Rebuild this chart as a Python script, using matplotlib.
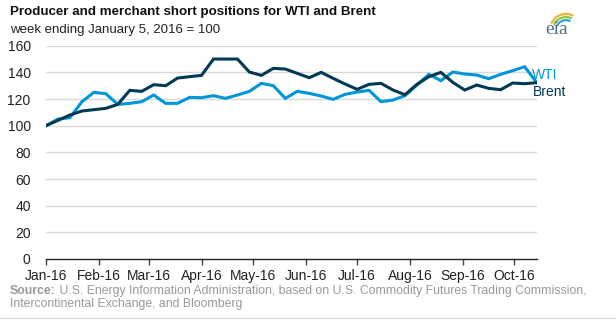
import matplotlib
matplotlib.use("Agg")
import matplotlib.pyplot as plt
import matplotlib.dates as mdates
from matplotlib.patches import Arc
import pandas as pd

plt.rcParams["font.family"] = ["Liberation Sans", "DejaVu Sans"]

# weekly report dates (Tuesdays), index: week ending Jan 5, 2016 = 100
weeks = pd.date_range("2016-01-05", periods=42, freq="7D")

wti = [100, 105, 106, 118, 125, 124, 116, 116.75, 118, 123,
       116.75, 116.75, 121.25, 121, 122.5, 120.5, 123, 125.75, 131.75, 130,
       120.5, 125.75, 124.25, 122.25, 119.75, 123.5, 125.25, 126.5, 118, 119.25,
       122.5, 130.5, 138.5, 133.75, 140.25, 138.75, 138, 135.25, 138.5, 141.25,
       144.25, 132.5]
brent = [100, 104, 108, 111, 112, 113, 116, 126.5, 125.75, 130.75,
         130, 135.75, 136.75, 137.75, 150, 150, 150, 140.25, 137.75, 143,
         142.5, 139.25, 136, 140, 135.5, 131.25, 127.25, 131, 131.75, 126.75,
         123.25, 131, 136.75, 140, 132.5, 126.75, 130.5, 128, 127, 132,
         131.5, 132.25]

yticks = [0, 20, 40, 60, 80, 100, 120, 140, 160]

WTI_BLUE = "#0096d7"
BRENT_NAVY = "#003953"
GRID = "#d9d9d9"
SRC_GRAY = "#999999"

fig = plt.figure(figsize=(6.16, 3.23), dpi=100)
ax = fig.add_axes([46 / 616, 1 - 259 / 323, (537 - 46) / 616, (259 - 45.7) / 323])

ax.plot(weeks, wti, color=WTI_BLUE, lw=2.2, solid_joinstyle="miter", zorder=3)
ax.plot(weeks, brent, color=BRENT_NAVY, lw=2.2, solid_joinstyle="miter", zorder=4)

ax.set_ylim(0, 160)
ax.set_yticks(yticks)
ax.set_xlim(weeks[0], weeks[-1] + pd.Timedelta(hours=6))
ax.xaxis.set_major_locator(mdates.MonthLocator(bymonthday=5))
ax.xaxis.set_major_formatter(mdates.DateFormatter("%b-%y"))

for y in yticks[1:]:
    ax.axhline(y, color=GRID, lw=1, zorder=1)
for side in ("top", "right", "left"):
    ax.spines[side].set_visible(False)
ax.spines["bottom"].set_color("#222222")
ax.spines["bottom"].set_linewidth(1)

ax.tick_params(axis="y", length=0, pad=11, labelsize=10, labelcolor="#222222")
ax.tick_params(axis="x", direction="out", length=4, width=1, color="#444444",
               pad=3, labelsize=10, labelcolor="#222222")

# series labels at the right end of the lines
ax.annotate("WTI", xy=(weeks[-1], 138), xytext=(-3, 0), textcoords="offset points",
            color=WTI_BLUE, fontsize=10, ha="left", va="center", annotation_clip=False)
ax.annotate("Brent", xy=(weeks[-1], 125.5), xytext=(-3, 0), textcoords="offset points",
            color=BRENT_NAVY, fontsize=10, ha="left", va="center", annotation_clip=False)

fig.text(10 / 616, 1 - 12 / 323, "Producer and merchant short positions for WTI and Brent",
         fontsize=9.6, fontweight="bold", color="#111111", va="center")
fig.text(10 / 616, 1 - 30 / 323, "week ending January 5, 2016 = 100",
         fontsize=9.5, color="#222222", va="center")

# source note, bold lead-in followed by regular text
src = fig.text(10 / 616, 1 - 291 / 323, "Source:", fontsize=8.8, fontweight="bold",
               color=SRC_GRAY, va="center")
fig.canvas.draw()
bb = src.get_window_extent()
fig.text(bb.x1 / fig.bbox.width, 1 - 291 / 323,
         " U.S. Energy Information Administration, based on U.S. Commodity Futures Trading Commission,",
         fontsize=8.8, color=SRC_GRAY, va="center")
fig.text(10 / 616, 1 - 304 / 323, "Intercontinental Exchange, and Bloomberg",
         fontsize=8.8, color=SRC_GRAY, va="center")
fig.add_artist(plt.Line2D([0, 1], [1 - 318 / 323] * 2, color="#dddddd", lw=1,
                          transform=fig.transFigure))

# eia mark
fig.text(557 / 616, 1 - 29 / 323, "eia", fontsize=14, family="Liberation Serif",
         color="#5b6f7f", ha="center", va="center")
for r, c in ((0.026, "#f2b134"), (0.021, "#8dc63f"), (0.016, "#2fa4d8")):
    fig.add_artist(Arc((566 / 616, 1 - 30 / 323), r * 2, r * 2 * 616 / 323,
                       theta1=75, theta2=140, color=c, lw=1.6, transform=fig.transFigure))

fig.savefig("out.png", dpi=100)
